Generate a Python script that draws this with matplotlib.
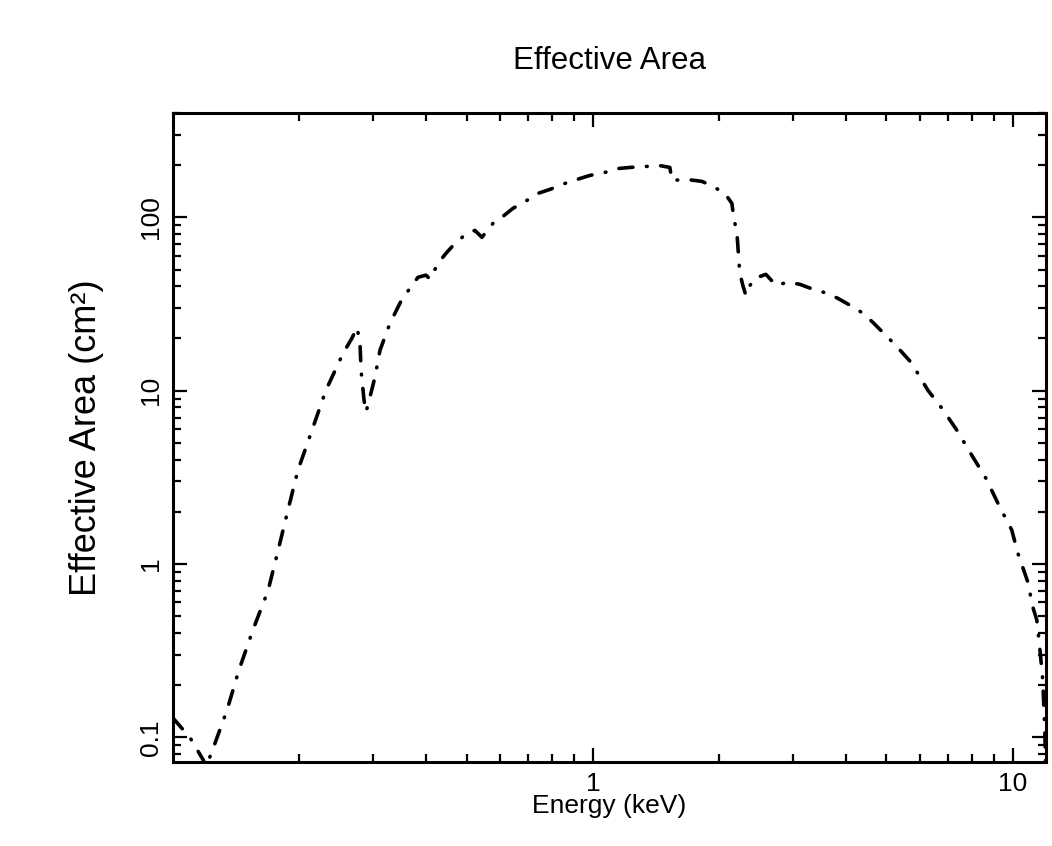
import numpy as np
import matplotlib
matplotlib.use("Agg")
import matplotlib.pyplot as plt
from matplotlib.ticker import LogLocator, NullFormatter, FixedLocator, FixedFormatter

plt.rcParams['font.family'] = ['Liberation Sans', 'DejaVu Sans']

# energy (keV) and effective area (cm^2)
energy = [0.100, 0.1098, 0.1179, 0.1199, 0.1245, 0.1345, 0.1436, 0.155, 0.1683,
          0.1778, 0.1878, 0.1984, 0.2143, 0.2313, 0.254, 0.2668, 0.2742,
          0.2788, 0.2804, 0.285, 0.2881, 0.2944, 0.3026, 0.3111, 0.3286,
          0.3509, 0.3831, 0.4003, 0.4093, 0.4276, 0.4467, 0.4694, 0.501,
          0.5236, 0.544, 0.578, 0.6105, 0.645, 0.6964, 0.7397, 0.790, 0.858,
          0.916, 0.984, 1.068, 1.147, 1.225, 1.345, 1.436, 1.525, 1.542,
          1.674, 1.818, 1.930, 2.062, 2.143, 2.166, 2.202, 2.214, 2.226,
          2.239, 2.275, 2.313, 2.351, 2.430, 2.582, 2.728, 2.913, 3.111,
          3.341, 3.607, 3.831, 4.138, 4.395, 4.642, 4.903, 5.179, 5.441,
          5.748, 5.973, 6.276, 6.776, 7.357, 8.035, 8.626, 9.312, 9.945,
          10.28, 10.86, 11.16, 11.41, 11.59, 11.79, 11.92, 11.99]
area = [0.129, 0.0993, 0.0742, 0.0676, 0.0859, 0.144, 0.245, 0.417, 0.699,
        1.19, 2.05, 3.48, 5.92, 10.07, 16.4, 20.1, 23.2,
        18.8, 13.1, 8.82, 7.52, 9.18, 11.96, 17.1, 24.5,
        33.7, 45.1, 46.4, 44.0, 54.3, 62.0, 70.8, 80.9,
        84.1, 76.7, 92.3, 101.3, 112.7, 125.3, 137.5, 145.0, 157.0,
        165.5, 174.6, 181.6, 191.3, 194.1, 196.8, 199.4, 194.1, 163.4,
        165.5, 161.3, 151.0, 137.5, 120.4, 98.7, 81.9, 69.0, 56.5,
        47.5, 40.6, 35.5, 39.5, 44.5, 46.9, 40.6, 42.2, 41.1,
        38.5, 36.5, 34.1, 30.7, 28.0, 24.8, 21.7, 19.0, 16.7,
        14.4, 12.3, 10.07, 7.93, 5.92, 4.14, 3.13, 2.13, 1.57,
        1.157, 0.787, 0.565, 0.475, 0.333, 0.214, 0.110, 0.06]

xticks = [1, 10]
xticklabels = ['1', '10']
yticks = [0.1, 1, 10, 100]
yticklabels = ['0.1', '1', '10', '100']

fig = plt.figure(figsize=(10.52, 8.46), dpi=100)
ax = fig.add_axes([0.1645, 0.0993, 0.8298, 0.7671])

line, = ax.plot(energy, area, color='black', lw=2.6,
                dash_capstyle='round', solid_capstyle='round')
line.set_dashes([3.9, 3.75, 0.2, 3.75])

ax.set_xscale('log')
ax.set_yscale('log')
ax.set_xlim(0.1, 12)
ax.set_ylim(0.072, 400)

ax.xaxis.set_major_locator(FixedLocator(xticks))
ax.xaxis.set_major_formatter(FixedFormatter(xticklabels))
ax.xaxis.set_minor_locator(LogLocator(base=10, subs=np.arange(2, 10)))
ax.xaxis.set_minor_formatter(NullFormatter())
ax.yaxis.set_major_locator(FixedLocator(yticks))
ax.yaxis.set_major_formatter(FixedFormatter(yticklabels))
ax.yaxis.set_minor_locator(LogLocator(base=10, subs=np.arange(2, 10)))
ax.yaxis.set_minor_formatter(NullFormatter())

ax.tick_params(which='both', direction='in', top=True, right=True, width=1.6)
ax.tick_params(which='major', length=10, labelsize=19, pad=7)
ax.tick_params(which='minor', length=5.5)
for lbl in ax.get_yticklabels():
    lbl.set_rotation(90)
    lbl.set_va('center')
for s in ax.spines.values():
    s.set_linewidth(2.2)

ax.set_xlabel('Energy (keV)', fontsize=19)
ax.xaxis.set_label_coords(0.5, -0.05)
ax.set_ylabel('Effective Area (cm²)', fontsize=26)
ax.yaxis.set_label_coords(-0.079, 0.5)
ax.set_title('Effective Area', fontsize=22.5, pad=32)

fig.savefig('out.png', dpi=100)
